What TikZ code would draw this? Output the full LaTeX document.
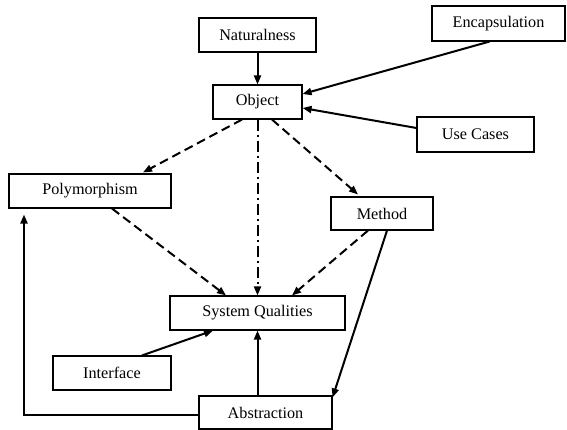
\documentclass[tikz,border=0pt]{standalone}
\usepackage{fontspec}
\setmainfont{Liberation Serif}
\usetikzlibrary{arrows.meta,calc}
\begin{document}
\begin{tikzpicture}[x=1pt,y=-1pt,
  box/.style={draw,line width=1.1pt,inner sep=0pt,font=\fontsize{16.2}{18}\selectfont},
  link/.style={line width=2pt,-{Triangle[length=9pt,width=7pt]}},
  dashlink/.style={link,dash pattern=on 9pt off 5pt},
  dashdotlink/.style={link,dash pattern=on 11pt off 4pt on 2pt off 4pt}]
\useasboundingbox (0,0) rectangle (567,430);

% concept boxes
\node[box,minimum width=117pt,minimum height=34pt] (nat) at (257.5,35) {Naturalness};
\node[box,minimum width=89pt,minimum height=34pt]  (obj) at (257.5,102) {Object};
\node[box,minimum width=133pt,minimum height=35pt] (enc) at (498.5,23.5) {Encapsulation};
\node[box,minimum width=117pt,minimum height=35pt] (use) at (475.5,134.5) {Use Cases};
\node[box,minimum width=162pt,minimum height=34pt] (poly) at (90,191) {Polymorphism};
\node[box,minimum width=102pt,minimum height=33pt] (meth) at (382,213.5) {Method};
\node[box,minimum width=175pt,minimum height=34pt] (sq) at (257.5,313) {System Qualities};
\node[box,minimum width=118pt,minimum height=34pt] (intf) at (112,373) {Interface};
\node[box,minimum width=133pt,minimum height=33pt] (abs) at (265.5,412.5) {Abstraction};

% solid influences
\draw[link] (nat) -- (obj);
\draw[link] ([xshift=-9pt]enc.south) -- ([yshift=8pt]obj.east);
\draw[link] ([yshift=6.5pt]use.west) -- ([yshift=-6pt]obj.east);
\draw[link] ([xshift=30pt]intf.north) -- ([xshift=-44.5pt]sq.south);
\draw[link] (sq.south |- abs.north) -- (sq.south);
\draw[link] ([xshift=5pt]meth.south) -- ([yshift=-2pt]abs.north east);
\coordinate (corner) at ([xshift=-66pt]poly.south |- abs.west);
\draw[link] ([yshift=-2.5pt]abs.west) -- ([yshift=-2.5pt]corner) -- ([xshift=-66pt,yshift=-6pt]poly.south);

% dashed relations
\draw[dashlink] ([xshift=-15.5pt]obj.south) -- ([xshift=53pt,yshift=1pt]poly.north);
\draw[dashlink] ([xshift=14.5pt]obj.south) -- ([xshift=-24pt,yshift=2pt]meth.north);
\draw[dashlink] ([xshift=22pt]poly.south) -- ([xshift=-31.5pt]sq.north);
\draw[dashlink] ([xshift=-14pt]meth.south) -- ([xshift=34.5pt]sq.north);
\draw[dashdotlink] (obj.south) -- (sq.north);
\end{tikzpicture}
\end{document}
